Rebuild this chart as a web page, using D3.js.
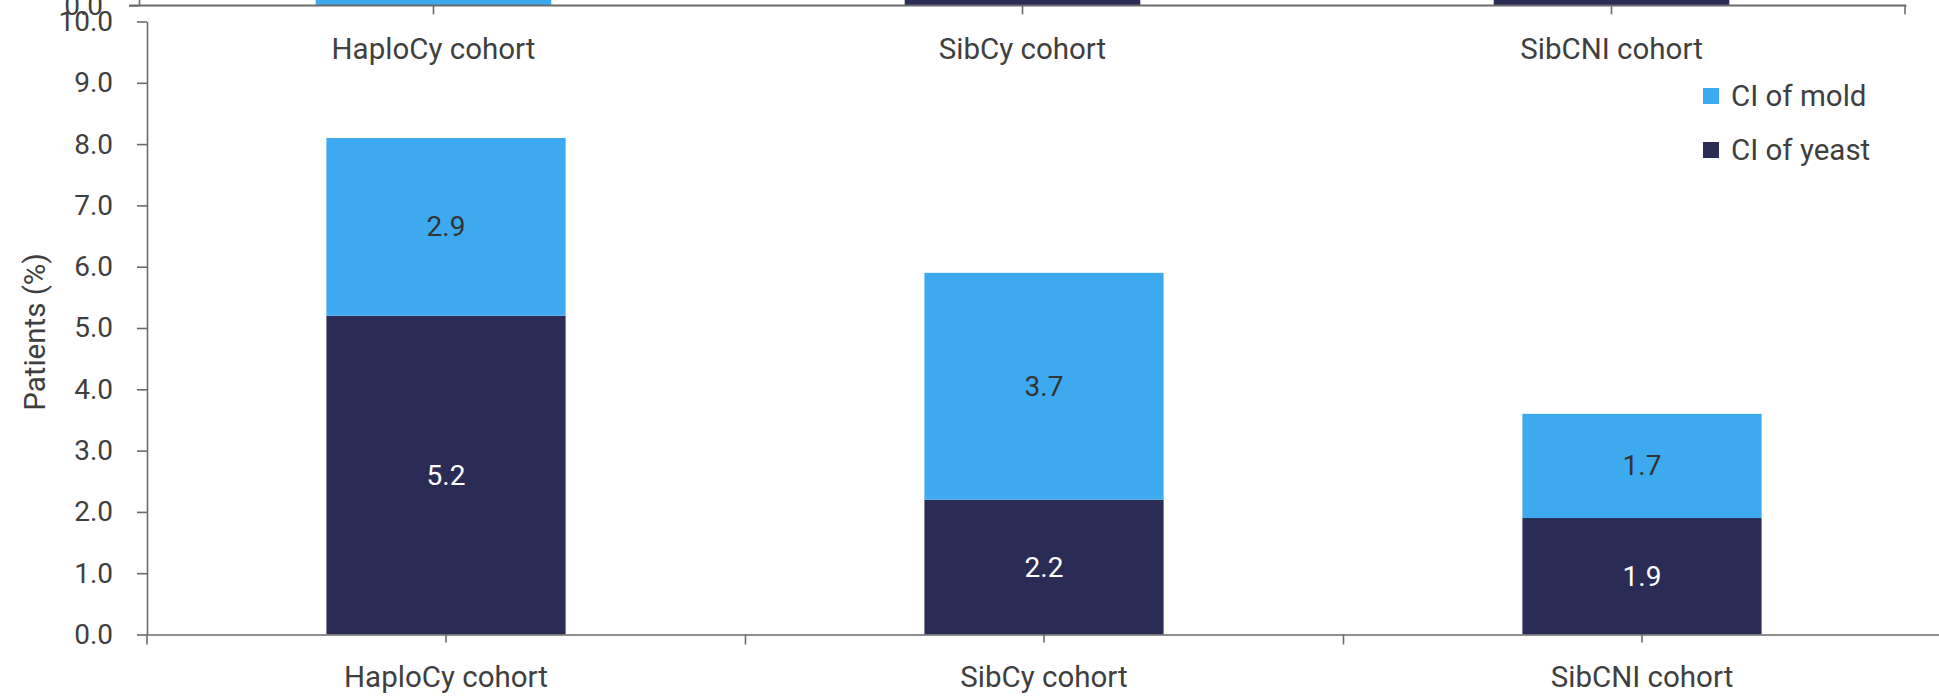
<!DOCTYPE html>
<html>
<head>
<meta charset="utf-8">
<script src="https://cdn.jsdelivr.net/npm/d3@7"></script>
<style>
  html, body { margin: 0; padding: 0; background: #fff; }
  svg { display: block; }
  text { font-family: "Source Sans Pro", Roboto, "Noto Sans", sans-serif; }
</style>
</head>
<body>
<svg id="chart" width="1939" height="698"></svg>
<script>
// Cohorts and cumulative incidence (%) of invasive fungal infection
const cohorts = ["HaploCy cohort", "SibCy cohort", "SibCNI cohort"];
const yeastCI = [5.2, 2.2, 1.9];
const moldCI  = [2.9, 3.7, 1.7];
const seriesNames = ["CI of mold", "CI of yeast"];
const yTicks = [0, 1, 2, 3, 4, 5, 6, 7, 8, 9, 10];

// Panel above (only its baseline strip is in view)
const upperYeast = [0.0, 2.0, 1.6];
const upperMold  = [3.0, 1.0, 1.2];

const colors = { mold: "#3daaf0", yeast: "#2b2c55" };
const axisColor = "#6b6b6b";
const textColor = "#3f3f3f";
const numSize = 28;   // tick and value labels
const wordSize = 29.5; // category names, axis title, legend

const svg = d3.select("#chart");

// ---------- upper panel (cropped) ----------
const up = svg.append("g").attr("class", "upper-panel");
const upX = d3.scaleBand().domain(cohorts).range([139, 1906]).paddingInner(0.6).paddingOuter(0.3);
const upY = d3.scaleLinear().domain([0, 10]).range([5.3, 5.3 - 614]);

const upStack = cohorts.map((c, i) => ({ c, yeast: upperYeast[i], mold: upperMold[i] }));
up.selectAll("rect.uy").data(upStack).join("rect").attr("class", "uy")
  .attr("x", d => upX(d.c)).attr("width", upX.bandwidth())
  .attr("y", d => upY(d.yeast)).attr("height", d => upY(0) - upY(d.yeast))
  .attr("fill", colors.yeast);
up.selectAll("rect.um").data(upStack).join("rect").attr("class", "um")
  .attr("x", d => upX(d.c)).attr("width", upX.bandwidth())
  .attr("y", d => upY(d.yeast + d.mold)).attr("height", d => upY(d.yeast) - upY(d.yeast + d.mold))
  .attr("fill", colors.mold);

// upper y axis (only the 0.0 tick reaches into view)
up.append("g").attr("class", "num-axis").attr("transform", "translate(139,0)")
  .call(d3.axisLeft(upY).tickValues([0]).tickSize(10).tickPadding(26).tickFormat(d3.format(".1f")));
// upper x axis: ticks at category centres plus a closing tick
up.append("g").attr("class", "cat-axis").attr("transform", "translate(0,5.3)")
  .call(d3.axisBottom(upX).tickSize(9).tickPadding(24).tickSizeOuter(0));
up.append("line").attr("x1", 129).attr("x2", 1906).attr("y1", 5.3).attr("y2", 5.3);
up.append("line").attr("x1", 1905).attr("x2", 1905).attr("y1", 5.3).attr("y2", 14.3);

// ---------- main panel ----------
const g = svg.append("g").attr("class", "main-panel");
const plotLeft = 147, plotRight = 1941, plotTop = 21.5, plotBase = 634.5;

const x = d3.scaleBand().domain(cohorts).range([plotLeft, plotRight]).paddingInner(0.6).paddingOuter(0.3);
const y = d3.scaleLinear().domain([0, 10]).range([plotBase, plotTop]);

const data = cohorts.map((c, i) => ({ c, yeast: yeastCI[i], mold: moldCI[i] }));

// stacked bars: yeast at the bottom, mold on top
g.selectAll("rect.yeast").data(data).join("rect").attr("class", "yeast")
  .attr("x", d => x(d.c)).attr("width", x.bandwidth())
  .attr("y", d => y(d.yeast)).attr("height", d => y(0) - y(d.yeast))
  .attr("fill", colors.yeast);
g.selectAll("rect.mold").data(data).join("rect").attr("class", "mold")
  .attr("x", d => x(d.c)).attr("width", x.bandwidth())
  .attr("y", d => y(d.yeast + d.mold)).attr("height", d => y(d.yeast) - y(d.yeast + d.mold))
  .attr("fill", colors.mold);

// value labels in the middle of each segment
g.selectAll("text.ly").data(data).join("text").attr("class", "ly")
  .attr("x", d => x(d.c) + x.bandwidth() / 2)
  .attr("y", d => y(d.yeast / 2))
  .attr("text-anchor", "middle").attr("dominant-baseline", "central")
  .attr("font-size", numSize).attr("fill", "#ffffff")
  .text(d => d3.format(".1f")(d.yeast));
g.selectAll("text.lm").data(data).join("text").attr("class", "lm")
  .attr("x", d => x(d.c) + x.bandwidth() / 2)
  .attr("y", d => y(d.yeast + d.mold / 2))
  .attr("text-anchor", "middle").attr("dominant-baseline", "central")
  .attr("font-size", numSize).attr("fill", "#333333")
  .text(d => d3.format(".1f")(d.mold));

// y axis
g.append("g").attr("class", "num-axis").attr("transform", `translate(${plotLeft},0)`)
  .call(d3.axisLeft(y).tickValues(yTicks).tickSize(10).tickPadding(24)
    .tickFormat(d3.format(".1f")).tickSizeOuter(0));
// extend the y axis below the baseline as the first category divider
g.append("line").attr("x1", plotLeft).attr("x2", plotLeft).attr("y1", plotBase).attr("y2", plotBase + 10);

// x axis: short ticks at category centres, longer ticks at category boundaries
g.append("g").attr("class", "cat-axis").attr("transform", `translate(0,${plotBase})`)
  .call(d3.axisBottom(x).tickSize(8).tickPadding(24).tickSizeOuter(0));
const bounds = d3.scaleLinear().domain([0, cohorts.length]).range([plotLeft, plotRight]);
g.append("g").attr("transform", `translate(0,${plotBase})`)
  .call(d3.axisBottom(bounds).tickValues([1, 2]).tickSize(10).tickFormat(() => "").tickSizeOuter(0))
  .select(".domain").remove();

// y axis title
g.append("text")
  .attr("transform", `translate(35,332) rotate(-90)`)
  .attr("text-anchor", "middle").attr("dominant-baseline", "central")
  .attr("font-size", wordSize).attr("fill", textColor)
  .text("Patients (%)");

// legend
const legend = g.append("g");
const legendItems = [
  { name: seriesNames[0], color: colors.mold },
  { name: seriesNames[1], color: colors.yeast }
];
legendItems.forEach((it, i) => {
  const cy = 96 + i * 54;
  legend.append("rect").attr("x", 1703).attr("y", cy - 8).attr("width", 16).attr("height", 16).attr("fill", it.color);
  legend.append("text").attr("x", 1731).attr("y", cy)
    .attr("dominant-baseline", "central").attr("font-size", wordSize).attr("fill", textColor)
    .text(it.name);
});

// common axis styling
svg.selectAll(".domain, .tick line, line").attr("stroke", axisColor).attr("stroke-width", 1.6);
svg.selectAll(".tick text").attr("fill", textColor)
  .attr("font-family", "\"Source Sans Pro\", Roboto, \"Noto Sans\", sans-serif");
svg.selectAll(".num-axis .tick text").attr("font-size", numSize);
svg.selectAll(".cat-axis .tick text").attr("font-size", wordSize);
</script>
</body>
</html>
